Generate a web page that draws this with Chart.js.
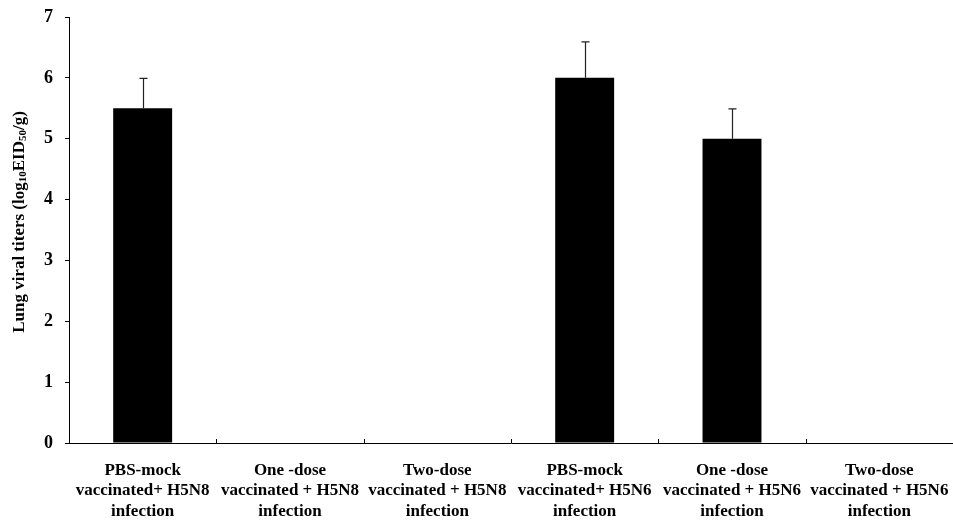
<!DOCTYPE html>
<html>
<head>
<meta charset="utf-8">
<script src="https://cdn.jsdelivr.net/npm/chart.js@4"></script>
<style>
html,body{margin:0;padding:0;background:#fff;}
#wrap{width:953px;height:521px;position:relative;}
</style>
</head>
<body>
<div id="wrap"><canvas id="c" width="953" height="521"></canvas></div>
<script>
const categories = [
  ["PBS-mock", "vaccinated+ H5N8", "infection"],
  ["One -dose", "vaccinated + H5N8", "infection"],
  ["Two-dose", "vaccinated + H5N8", "infection"],
  ["PBS-mock", "vaccinated+ H5N6", "infection"],
  ["One -dose", "vaccinated + H5N6", "infection"],
  ["Two-dose", "vaccinated + H5N6", "infection"]
];
const titerValues = [5.5, 0, 0, 6.0, 5.0, 0];
const titerErrors = [0.5, 0, 0, 0.6, 0.5, 0];
const yTickValues = [0, 1, 2, 3, 4, 5, 6, 7];
// y-axis title segments: [text, isSubscript]
const yTitleParts = [["Lung viral titers (log", false], ["10", true], ["EID", false], ["50", true], ["/g)", false]];

const FONT = "'Liberation Serif', 'Times New Roman', serif";

const overlayPlugin = {
  id: 'overlay',
  afterDatasetsDraw(chart) {
    const ctx = chart.ctx;
    const x = chart.scales.x, y = chart.scales.y;
    const meta = chart.getDatasetMeta(0);
    ctx.save();
    ctx.strokeStyle = '#222';
    ctx.lineWidth = 1.2;
    meta.data.forEach((bar, i) => {
      const err = titerErrors[i];
      if (!err) return;
      const top = y.getPixelForValue(titerValues[i] + err);
      const base = y.getPixelForValue(titerValues[i]);
      const cx = Math.round(bar.x) + 0.5;
      ctx.beginPath();
      ctx.moveTo(cx, base);
      ctx.lineTo(cx, top);
      ctx.moveTo(cx - 4, top + 0.5);
      ctx.lineTo(cx + 4, top + 0.5);
      ctx.stroke();
    });
    ctx.strokeStyle = '#000';
    ctx.lineWidth = 1;
    for (let i = 1; i < categories.length; i++) {
      const px = Math.round((x.getPixelForValue(i - 1) + x.getPixelForValue(i)) / 2) + 0.5;
      ctx.beginPath();
      ctx.moveTo(px, y.bottom);
      ctx.lineTo(px, y.bottom - 4);
      ctx.stroke();
    }
    ctx.restore();
  },
  afterDraw(chart) {
    const ctx = chart.ctx;
    const y = chart.scales.y;
    const big = "bold 17px " + FONT, small = "bold 11px " + FONT;
    ctx.save();
    let total = 0;
    yTitleParts.forEach(([t, sub]) => { ctx.font = sub ? small : big; total += ctx.measureText(t).width; });
    const cy = (y.top + y.bottom) / 2 - 8;
    ctx.translate(24, cy);
    ctx.rotate(-Math.PI / 2);
    ctx.fillStyle = '#000';
    ctx.textBaseline = 'alphabetic';
    let pos = -total / 2;
    yTitleParts.forEach(([t, sub]) => {
      ctx.font = sub ? small : big;
      ctx.fillText(t, pos, sub ? 2 : 0);
      pos += ctx.measureText(t).width;
    });
    ctx.restore();
  }
};

new Chart(document.getElementById('c'), {
  type: 'bar',
  data: {
    labels: categories,
    datasets: [{
      data: titerValues,
      backgroundColor: '#000',
      borderWidth: 0,
      barPercentage: 0.4,
      categoryPercentage: 1.0
    }]
  },
  options: {
    responsive: false,
    animation: false,
    devicePixelRatio: 1,
    layout: { padding: { top: 17, right: 0, left: 0, bottom: 0 } },
    plugins: { legend: { display: false }, tooltip: { enabled: false } },
    scales: {
      x: {
        grid: { display: false, drawTicks: false },
        border: { display: true, color: '#000', width: 1 },
        ticks: {
          color: '#000',
          font: { family: FONT, size: 17, weight: 'bold', lineHeight: 1.18 },
          padding: 18,
          maxRotation: 0,
          autoSkip: false
        },
        afterFit(s) { s.height = 78; s.paddingLeft = 0; s.paddingRight = 0; }
      },
      y: {
        min: 0,
        max: 7,
        afterBuildTicks(s) { s.ticks = yTickValues.map(v => ({ value: v })); },
        grid: { drawOnChartArea: false, drawTicks: true, tickLength: 4, color: '#000' },
        border: { display: true, color: '#000', width: 1 },
        ticks: {
          color: '#000',
          font: { family: FONT, size: 18, weight: 'bold' },
          padding: 12
        },
        afterFit(s) { s.width = 69; s.paddingTop = 0; s.paddingBottom = 0; }
      }
    }
  },
  plugins: [overlayPlugin]
});
</script>
</body>
</html>
